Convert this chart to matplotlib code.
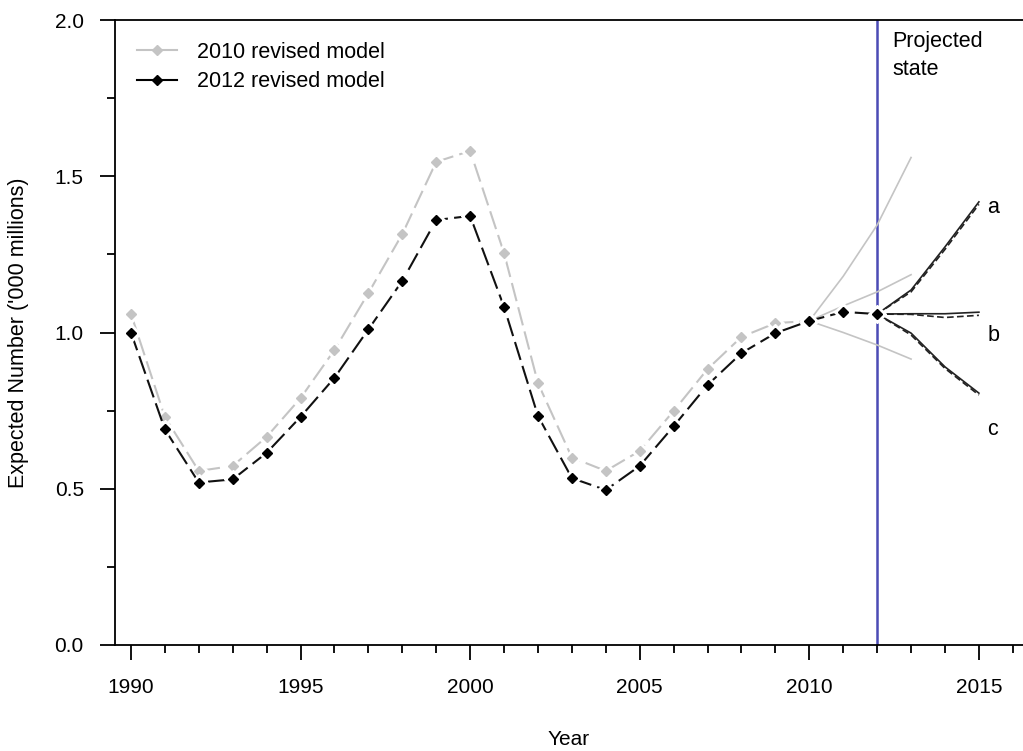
import matplotlib
matplotlib.use("Agg")
import matplotlib.pyplot as plt
from matplotlib.ticker import MultipleLocator
from matplotlib.lines import Line2D

plt.rcParams['font.family'] = ['Liberation Sans', 'DejaVu Sans']

# ---- data ----
years = list(range(1990, 2011))
model_2010 = [1.06, 0.73, 0.557, 0.573, 0.666, 0.79, 0.944, 1.126, 1.315, 1.546, 1.581,
              1.254, 0.838, 0.60, 0.557, 0.621, 0.749, 0.883, 0.986, 1.030, 1.037]
years_2012 = list(range(1990, 2013))
model_2012 = [1.00, 0.69, 0.52, 0.53, 0.615, 0.73, 0.855, 1.01, 1.165, 1.36, 1.373,
              1.082, 0.733, 0.534, 0.496, 0.573, 0.70, 0.832, 0.934, 0.998, 1.037, 1.066, 1.059]

proj_years_2010 = [2010, 2011, 2012, 2013]
proj_2010_high = [1.037, 1.18, 1.344, 1.56]
proj_2010_mid = [1.037, 1.085, 1.13, 1.185]
proj_2010_low = [1.037, 1.00, 0.96, 0.915]

proj_years_2012 = [2012, 2013, 2014, 2015]
proj_2012_a = [1.059, 1.136, 1.274, 1.418]
proj_2012_a_alt = [1.059, 1.130, 1.266, 1.410]
proj_2012_b = [1.059, 1.060, 1.060, 1.065]
proj_2012_b_alt = [1.059, 1.058, 1.048, 1.055]
proj_2012_c = [1.059, 0.998, 0.89, 0.806]
proj_2012_c_alt = [1.059, 0.992, 0.885, 0.800]

scenario_labels = ['a', 'b', 'c']
scenario_label_values = [1.40, 0.99, 0.69]
projection_year = 2012

fig = plt.figure(figsize=(10.23, 7.51), dpi=100)
ax = fig.add_axes([115/1023, 1-645/751, 1-115/1023, (645-20)/751])

gray = '#c4c4c4'
# projections 2010 (thin gray)
for vals in (proj_2010_high, proj_2010_mid, proj_2010_low):
    ax.plot(proj_years_2010, vals, color=gray, lw=1.2, zorder=2)
# projections 2012 (black, solid + dashed overlap)
for v1, v2 in ((proj_2012_a, proj_2012_a_alt), (proj_2012_b, proj_2012_b_alt), (proj_2012_c, proj_2012_c_alt)):
    ax.plot(proj_years_2012, v1, color='#222222', lw=1.2, zorder=3)
    ax.plot(proj_years_2012, v2, color='#222222', lw=1.2, ls=(0, (4, 2)), zorder=3)

# main series: line, white halo, marker
ax.plot(years, model_2010, color=gray, lw=1.5, ls=(0, (9, 3)), zorder=4)
ax.plot(years, model_2010, ls='none', marker='D', ms=9, mfc='white', mec='white', zorder=4.5)
ax.plot(years, model_2010, ls='none', marker='D', ms=4.8, mfc=gray, mec=gray, zorder=4.6)
ax.plot(years_2012, model_2012, color='#111111', lw=1.5, ls=(0, (9, 3)), zorder=5)
ax.plot(years_2012, model_2012, ls='none', marker='D', ms=9, mfc='white', mec='white', zorder=5.5)
ax.plot(years_2012, model_2012, ls='none', marker='D', ms=4.8, mfc='black', mec='black', zorder=5.6)

ax.axvline(projection_year, color='#4b4bb5', lw=1.8, zorder=1)

ax.set_xlim(1989.53, 2016.30)
ax.set_ylim(0, 2.0)
ax.xaxis.set_major_locator(MultipleLocator(5))
ax.xaxis.set_minor_locator(MultipleLocator(1))
ax.yaxis.set_major_locator(MultipleLocator(0.5))
ax.yaxis.set_minor_locator(MultipleLocator(0.25))
ax.yaxis.set_major_formatter(plt.FuncFormatter(lambda v, p: f"{v:.1f}"))
ax.tick_params(which='major', direction='out', length=10.5, width=1.3, labelsize=15)
ax.tick_params(axis='x', which='major', pad=13)
ax.tick_params(axis='y', which='major', pad=12)
ax.tick_params(which='minor', direction='out', length=5.5, width=1.3)
ax.spines['right'].set_visible(False)
for s in ('left', 'bottom', 'top'):
    ax.spines[s].set_linewidth(1.3)

ax.set_xlabel('Year', fontsize=15, labelpad=24)
ax.set_ylabel("Expected Number ('000 millions)", fontsize=15.5, labelpad=18)

ax.text(2012.45, 1.965, 'Projected\nstate', fontsize=15.5, va='top', ha='left', linespacing=1.45)
for lab, v in zip(scenario_labels, scenario_label_values):
    ax.text(2015.25, v, lab, fontsize=15.5, va='center', ha='left')

handles = [Line2D([], [], color=gray, lw=1.5, marker='D', ms=5.5, mfc=gray, mec=gray),
           Line2D([], [], color='black', lw=1.5, marker='D', ms=5.5, mfc='black', mec='black')]
ax.legend(handles, ['2010 revised model', '2012 revised model'], loc='upper left',
          bbox_to_anchor=(0.0, 1.0), frameon=False, fontsize=15.5,
          handlelength=1.9, handletextpad=0.9, labelspacing=0.4, borderaxespad=0.6)

fig.savefig('out.png', dpi=100)
